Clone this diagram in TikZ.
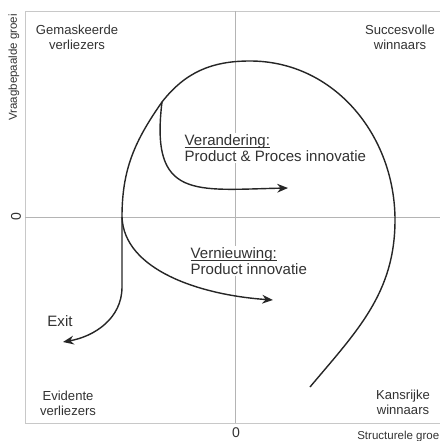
\documentclass[tikz,border=0pt]{standalone}
\usepackage{fontspec}
\setmainfont{Liberation Sans}
\usepackage{tikz}
\usetikzlibrary{arrows.meta,positioning}
\definecolor{framegray}{RGB}{200,200,200}
\definecolor{axisgray}{RGB}{180,180,180}
\definecolor{textgray}{RGB}{50,50,50}
\newcommand{\ulword}[1]{\setbox0\hbox{#1}\rlap{\rule[-1.8pt]{\wd0}{0.5pt}}#1}

\begin{document}
\begin{tikzpicture}[
    quad/.style={align=center, text=textgray, font=\fontsize{9.3}{10.8}\selectfont, inner sep=0pt},
    lbl/.style={align=left, text=textgray, fill=white, font=\fontsize{10.7}{11.8}\selectfont, inner sep=1pt},
    axlbl/.style={text=textgray, font=\fontsize{8.2}{10}\selectfont, inner sep=0pt},
    curve/.style={line width=1pt, black!85},
    arrow/.style={curve, -{Stealth[length=2.7mm, width=2.2mm]}}
]
    \useasboundingbox (-5.875,-5.6) rectangle (5.125,5.425);

    % Frame and axes
    \draw[framegray, line width=0.6pt] (5.2,5.15) -- (-5.25,5.15) -- (-5.25,-5.15) -- (5.2,-5.15);
    \draw[axisgray, line width=0.6pt] (0,5.15) -- (0,-5.15);
    \draw[axisgray, line width=0.6pt] (-5.25,0) -- (5.2,0);

    % Axis labels
    \node[axlbl, rotate=90] (vg) at (-5.525,3.74) {Vraagbepaalde groei};
    \node[axlbl, rotate=90, font=\fontsize{10}{12}\selectfont] (y0) at (-5.475,0) {0};
    \node[axlbl, font=\fontsize{10}{12}\selectfont] (x0) at (0.025,-5.4) {0};
    \node[axlbl, anchor=west] (sg) at (3.05,-5.5) {Structurele groei};

    % Quadrants
    \node[quad] (gv) at (-3.95,4.5) {Gemaskeerde\\verliezers};
    \node[quad] (sw) at (4.125,4.5) {Succesvolle\\winnaars};
    \node[quad] (ev) at (-4.175,-4.65) {Evidente\\verliezers};
    \node[quad] (kw) at (4.2,-4.625) {Kansrijke\\winnaars};

    % Points on the path
    \coordinate (start) at (1.875,-4.25);
    \coordinate (east) at (4.0,-0.075);
    \coordinate (apex) at (0.375,3.9);
    \coordinate (split) at (-1.825,2.875);
    \coordinate (cross) at (-2.825,0);
    \coordinate (bend) at (-2.825,-1.75);
    \coordinate (exit) at (-4.3,-3.125);
    \coordinate (verandering) at (1.325,0.725);
    \coordinate (vernieuwing) at (0.95,-2.075);

    % Main curve
    \draw[arrow] (start) to[out=50,in=-90] (east) to[out=90,in=0] (apex)
        to[out=180,in=52] (split) to[out=235,in=90] (cross) -- (bend)
        to[out=-90,in=10] (exit);

    % Branches
    \draw[arrow] (split) .. controls +(-0.3,-2.45) and +(-2.325,-0.05) .. (verandering);
    \draw[arrow] (cross) .. controls +(0.05,-1.325) and +(-1.825,0.125) .. (vernieuwing);

    % Branch labels
    \node[lbl, anchor=west] (vtext) at (-1.3,1.725) {\ulword{Verandering:}\\Product \& Proces innovatie};
    \node[lbl, anchor=west] (ntext) at (-1.15,-1.1) {\ulword{Vernieuwing:}\\Product innovatie};
    \node[lbl] (exittext) at (-4.375,-2.6) {Exit};
\end{tikzpicture}
\end{document}
